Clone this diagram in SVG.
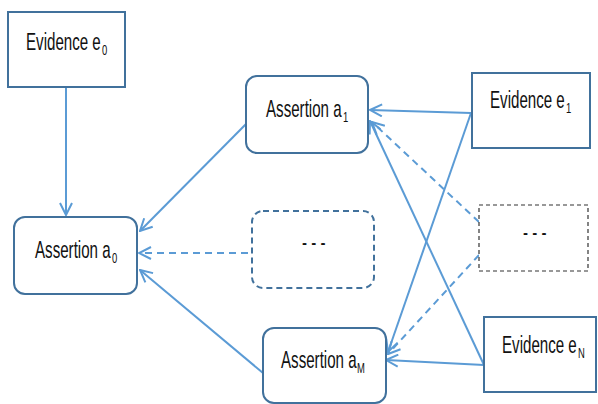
<svg xmlns="http://www.w3.org/2000/svg" width="598" height="404" viewBox="0 0 598 404">
<style>
.box{fill:#fff;stroke:#41719c;stroke-width:2}
.dbox{fill:#fff;stroke:#41719c;stroke-width:2;stroke-dasharray:6 4}
.kbox{fill:#fff;stroke:#333;stroke-width:1.2;stroke-dasharray:4 3}
.t{font-family:"Liberation Sans",Arial,sans-serif;font-size:24px;fill:#111}
.s{font-family:"Liberation Sans",Arial,sans-serif;font-size:15px;fill:#111}
.c{fill:none;stroke:#5b9bd5;stroke-width:2;marker-end:url(#ah)}
.cd{fill:none;stroke:#5b9bd5;stroke-width:2;stroke-dasharray:7 5;marker-end:url(#ah)}
</style>
<defs>
<marker id="ah" viewBox="0 0 14 14" refX="13" refY="7" markerWidth="14" markerHeight="14" markerUnits="userSpaceOnUse" orient="auto">
<path d="M1,1 L13,7 L1,13" fill="none" stroke="#5b9bd5" stroke-width="2" stroke-dasharray="none"/>
</marker>
</defs>
<g id="connectors">
<line class="c" x1="66" y1="88" x2="66" y2="215"/>
<line class="c" x1="248" y1="122" x2="140" y2="231"/>
<line class="cd" x1="248" y1="253" x2="139" y2="253"/>
<line class="c" x1="263" y1="373" x2="140" y2="270"/>
<line class="c" x1="471" y1="113" x2="370" y2="110"/>
<line class="c" x1="471" y1="113" x2="388" y2="352"/>
<line class="c" x1="484" y1="365" x2="370" y2="121"/>
<line class="c" x1="484" y1="365" x2="386" y2="360"/>
<line class="cd" x1="479" y1="222" x2="372" y2="122"/>
<line class="cd" x1="479" y1="255" x2="388" y2="354"/>
</g>
<g id="e0">
<rect class="box" x="8" y="12" width="117" height="75"/>
<text class="t" transform="translate(26,50) scale(0.63,1)">Evidence e</text>
<text class="s" transform="translate(102,55) scale(0.63,1)">0</text>
</g>
<g id="a0">
<rect class="box" x="14" y="217" width="123" height="77" rx="11"/>
<text class="t" transform="translate(35,258) scale(0.63,1)">Assertion a</text>
<text class="s" transform="translate(112,263) scale(0.63,1)">0</text>
</g>
<g id="a1">
<rect class="box" x="246" y="76" width="122" height="77" rx="11"/>
<text class="t" transform="translate(266,117) scale(0.63,1)">Assertion a</text>
<text class="s" transform="translate(343,122) scale(0.63,1)">1</text>
</g>
<g id="adots">
<rect class="dbox" x="252" y="211" width="122" height="77" rx="11"/>
<text class="t" transform="translate(302,250) scale(0.63,1)">- - -</text>
</g>
<g id="aM">
<rect class="box" x="263" y="328" width="123" height="75" rx="11"/>
<text class="t" transform="translate(281,368) scale(0.63,1)">Assertion a</text>
<text class="s" transform="translate(357,373) scale(0.63,1)">M</text>
</g>
<g id="e1">
<rect class="box" x="472" y="73" width="118" height="75"/>
<text class="t" transform="translate(490,108) scale(0.63,1)">Evidence e</text>
<text class="s" transform="translate(566,113) scale(0.63,1)">1</text>
</g>
<g id="edots">
<rect class="kbox" x="479" y="205" width="109" height="66"/>
<text class="t" transform="translate(523,240) scale(0.63,1)">- - -</text>
</g>
<g id="eN">
<rect class="box" x="484" y="317" width="112" height="75"/>
<text class="t" transform="translate(502,353) scale(0.63,1)">Evidence e</text>
<text class="s" transform="translate(578,358) scale(0.63,1)">N</text>
</g>
</svg>
